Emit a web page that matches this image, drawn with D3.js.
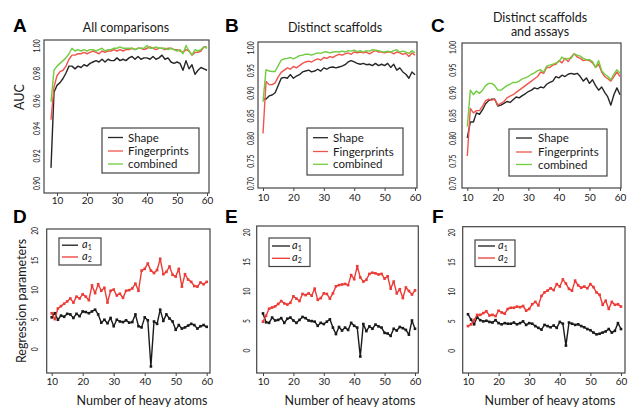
<!DOCTYPE html>
<html>
<head>
<meta charset="utf-8">
<script src="https://cdn.jsdelivr.net/npm/d3@7"></script>
<style>
  body { margin: 0; background: #fff; }
  text { font-family: Lato, "Open Sans", sans-serif; fill: #1a1a1a; }
  .letter { font-family: "Liberation Sans", Arial, sans-serif; font-weight: bold; font-size: 19px; fill: #000; }
</style>
</head>
<body>
<svg id="canvas" width="628" height="409"></svg>
<script>
// Number of heavy atoms (x values).
var atomsA = d3.range(8, 61);
var atoms = d3.range(10, 61);

// Tick labels.
var xTicks = [10, 20, 30, 40, 50, 60];
var aucTicksA = [0.90, 0.92, 0.94, 0.96, 0.98, 1.00];
var aucTicks = [0.70, 0.75, 0.80, 0.85, 0.90, 0.95, 1.00];
var regTicks = [0, 5, 10, 15, 20];

// Series names.
var aucNames = ['Shape', 'Fingerprints', 'combined'];
var regNames = ['1', '2'];

// A: All comparisons (8..60).
var shapeA = [0.911, 0.966, 0.971, 0.973, 0.976, 0.980, 0.985, 0.985, 0.983, 0.985, 0.984, 0.986, 0.985, 0.987, 0.988, 0.989, 0.988, 0.990, 0.988, 0.990, 0.989, 0.989, 0.991, 0.989, 0.990, 0.989, 0.991, 0.992, 0.990, 0.992, 0.990, 0.991, 0.991, 0.990, 0.992, 0.990, 0.991, 0.993, 0.990, 0.991, 0.988, 0.987, 0.988, 0.987, 0.982, 0.989, 0.983, 0.986, 0.979, 0.982, 0.984, 0.983, 0.982];
var fingerprintsA = [0.946, 0.970, 0.978, 0.981, 0.982, 0.985, 0.990, 0.993, 0.993, 0.994, 0.994, 0.995, 0.994, 0.995, 0.996, 0.995, 0.994, 0.996, 0.995, 0.996, 0.996, 0.997, 0.996, 0.997, 0.996, 0.997, 0.997, 0.998, 0.997, 0.998, 0.998, 0.997, 0.998, 0.999, 0.998, 0.997, 0.998, 0.998, 0.997, 0.998, 0.998, 0.997, 0.997, 0.996, 0.995, 0.997, 0.996, 0.993, 0.995, 0.995, 0.996, 0.999, 0.999];
var combinedA = [0.959, 0.982, 0.985, 0.987, 0.989, 0.991, 0.994, 0.998, 0.996, 0.997, 0.996, 0.997, 0.996, 0.997, 0.997, 0.996, 0.997, 0.998, 0.996, 0.997, 0.997, 0.998, 0.998, 0.999, 0.998, 0.998, 0.998, 0.998, 0.997, 0.998, 0.998, 0.998, 1.000, 0.998, 0.998, 0.999, 0.998, 0.998, 0.998, 0.997, 0.998, 0.997, 0.996, 0.997, 0.994, 1.000, 0.996, 0.993, 0.997, 0.996, 0.997, 0.999, 0.998];

// B: Distinct scaffolds (10..60).
var shapeB = [0.886, 0.886, 0.893, 0.895, 0.900, 0.916, 0.932, 0.934, 0.932, 0.940, 0.932, 0.937, 0.940, 0.946, 0.948, 0.950, 0.946, 0.948, 0.952, 0.948, 0.955, 0.952, 0.956, 0.957, 0.955, 0.957, 0.959, 0.962, 0.968, 0.971, 0.968, 0.965, 0.963, 0.965, 0.962, 0.963, 0.960, 0.965, 0.960, 0.963, 0.960, 0.965, 0.956, 0.963, 0.950, 0.955, 0.946, 0.941, 0.932, 0.946, 0.940];
var fingerprintsB = [0.810, 0.925, 0.918, 0.918, 0.922, 0.935, 0.945, 0.950, 0.955, 0.952, 0.958, 0.955, 0.960, 0.965, 0.968, 0.970, 0.968, 0.972, 0.975, 0.972, 0.978, 0.976, 0.980, 0.978, 0.982, 0.985, 0.983, 0.986, 0.988, 0.985, 0.990, 0.988, 0.990, 0.988, 0.990, 0.986, 0.990, 0.993, 0.990, 0.990, 0.988, 0.990, 0.990, 0.986, 0.990, 0.988, 0.985, 0.987, 0.980, 0.988, 0.983];
var combinedB = [0.880, 0.951, 0.948, 0.947, 0.947, 0.960, 0.972, 0.975, 0.976, 0.978, 0.975, 0.978, 0.982, 0.983, 0.985, 0.985, 0.983, 0.986, 0.988, 0.987, 0.990, 0.990, 0.988, 0.990, 0.991, 0.990, 0.992, 0.990, 0.993, 0.992, 0.994, 0.991, 0.993, 0.990, 0.993, 0.992, 0.995, 0.994, 0.993, 0.991, 0.990, 0.992, 0.990, 0.993, 0.995, 0.990, 0.992, 0.990, 0.987, 0.993, 0.988];

// C: Distinct scaffolds and assays (10..60).
var shapeC = [0.800, 0.835, 0.835, 0.855, 0.852, 0.862, 0.875, 0.882, 0.885, 0.885, 0.870, 0.872, 0.876, 0.880, 0.878, 0.884, 0.890, 0.888, 0.893, 0.897, 0.902, 0.905, 0.910, 0.908, 0.912, 0.910, 0.918, 0.922, 0.925, 0.935, 0.932, 0.938, 0.935, 0.940, 0.942, 0.940, 0.942, 0.935, 0.925, 0.932, 0.920, 0.928, 0.915, 0.905, 0.912, 0.900, 0.890, 0.872, 0.895, 0.910, 0.895];
var fingerprintsC = [0.760, 0.865, 0.855, 0.860, 0.860, 0.870, 0.882, 0.885, 0.883, 0.885, 0.872, 0.876, 0.880, 0.888, 0.892, 0.895, 0.900, 0.905, 0.910, 0.915, 0.920, 0.925, 0.930, 0.935, 0.945, 0.942, 0.955, 0.955, 0.960, 0.962, 0.970, 0.965, 0.975, 0.968, 0.978, 0.985, 0.978, 0.975, 0.970, 0.972, 0.970, 0.965, 0.955, 0.962, 0.945, 0.935, 0.930, 0.925, 0.935, 0.945, 0.935];
var combinedC = [0.825, 0.905, 0.895, 0.903, 0.898, 0.905, 0.915, 0.920, 0.920, 0.915, 0.905, 0.905, 0.910, 0.915, 0.918, 0.922, 0.922, 0.925, 0.930, 0.932, 0.935, 0.940, 0.943, 0.948, 0.950, 0.945, 0.958, 0.960, 0.962, 0.965, 0.968, 0.978, 0.972, 0.975, 0.975, 0.985, 0.982, 0.980, 0.975, 0.972, 0.972, 0.968, 0.955, 0.970, 0.948, 0.940, 0.935, 0.928, 0.940, 0.950, 0.942];

// D-F: regression parameters a1, a2 (10..60).
var a1D = [5.3, 6.0, 4.9, 5.6, 5.4, 5.9, 5.8, 5.2, 5.9, 5.5, 6.3, 6.2, 6.0, 6.3, 6.6, 5.8, 4.4, 4.9, 4.3, 5.2, 3.8, 4.9, 4.6, 4.5, 4.8, 4.4, 4.5, 5.8, 3.8, 3.6, 5.3, 4.8, -3.0, 4.6, 4.2, 6.6, 4.7, 5.8, 5.1, 4.6, 3.2, 4.0, 3.4, 3.6, 3.9, 4.2, 4.0, 3.4, 3.8, 4.0, 3.7];
var a2D = [6.0, 5.0, 6.8, 7.2, 7.6, 8.0, 8.5, 7.8, 8.8, 8.5, 9.2, 8.8, 8.2, 10.7, 9.4, 10.9, 9.8, 10.3, 7.8, 9.8, 10.0, 9.0, 9.3, 8.6, 9.8, 9.9, 10.2, 11.0, 9.8, 13.2, 13.5, 14.4, 13.2, 12.8, 13.3, 15.2, 12.6, 13.0, 13.9, 12.5, 12.2, 13.5, 10.5, 12.6, 11.7, 11.3, 10.6, 10.5, 11.2, 10.9, 11.3];
var a1E = [6.2, 4.7, 4.6, 5.5, 5.0, 5.1, 5.4, 4.6, 5.3, 5.5, 5.0, 4.6, 5.1, 5.6, 5.4, 5.0, 4.9, 4.8, 4.1, 4.6, 4.4, 4.8, 5.2, 3.8, 2.7, 3.9, 3.3, 3.8, 3.4, 4.6, 4.1, 3.8, -1.1, 4.4, 3.2, 4.0, 3.6, 4.3, 4.0, 3.8, 2.9, 2.8, 2.4, 3.6, 3.3, 3.9, 3.7, 3.4, 2.6, 5.0, 3.6];
var a2E = [4.8, 5.8, 7.0, 7.2, 7.4, 7.8, 8.3, 7.9, 7.7, 8.0, 9.1, 8.7, 8.3, 9.5, 9.3, 9.6, 9.2, 10.4, 8.5, 8.8, 9.6, 9.5, 8.7, 9.6, 10.8, 11.0, 11.1, 11.2, 11.0, 12.7, 12.0, 14.2, 12.3, 11.6, 11.9, 12.9, 13.1, 13.0, 12.8, 12.9, 12.1, 12.5, 10.4, 11.6, 9.6, 10.3, 8.8, 10.6, 10.0, 9.4, 10.1];
var a1F = [6.1, 5.2, 4.4, 5.6, 5.1, 4.9, 5.0, 4.8, 4.7, 5.1, 4.6, 4.4, 4.6, 4.5, 4.5, 4.7, 4.4, 4.6, 4.9, 4.3, 4.6, 4.5, 4.1, 3.8, 3.5, 4.3, 4.1, 3.9, 4.2, 3.8, 4.8, 4.5, 0.8, 4.7, 4.5, 4.3, 4.4, 4.1, 3.9, 3.6, 3.4, 3.0, 2.7, 2.8, 3.0, 3.2, 3.6, 3.0, 3.3, 4.6, 3.6];
var a2F = [4.1, 4.4, 5.1, 6.0, 6.0, 6.3, 6.6, 5.9, 6.0, 5.8, 6.7, 6.4, 6.2, 7.0, 7.2, 7.2, 7.4, 7.3, 7.5, 6.7, 7.0, 7.8, 8.2, 7.6, 9.2, 9.8, 10.1, 10.5, 10.2, 11.2, 10.8, 12.0, 11.3, 10.4, 10.1, 11.8, 11.0, 10.6, 10.8, 10.5, 11.2, 10.7, 9.8, 9.4, 7.7, 8.4, 7.0, 8.2, 7.7, 7.8, 7.4];

// Colours.
var aucColours = ['#262626', '#f0554d', '#72cc40'];
var regColours = ['#1a1a1a', '#ec3a35'];

// Panel layout (pixel boxes and where ticks land).
var panels = [
  { letter: 'A', letterPos: [13, 32], title: ['All comparisons'], titleX: 126, titleY: [32],
    atoms: atomsA, series: [shapeA, fingerprintsA, combinedA], names: aucNames, colours: aucColours,
    box: { l: 44, t: 40, r: 209, b: 193 }, xr: [57, 207], yd: [0.90, 1.00], yr: [183, 45.5],
    yTicks: aucTicksA, yFmt: '.2f', yLabOff: -3.9, xLabPad: 1,
    legend: { l: 102, t: 128, r: 199, b: 173, x1: 108, x2: 123, tx: 128, rows: [137.5, 151, 164] } },
  { letter: 'B', letterPos: [225, 32], title: ['Distinct scaffolds'], titleX: 335, titleY: [32],
    atoms: atoms, series: [shapeB, fingerprintsB, combinedB], names: aucNames, colours: aucColours,
    box: { l: 258, t: 42, r: 417, b: 188 }, xr: [263, 415], yd: [0.70, 1.00], yr: [183.3, 47.5],
    yTicks: aucTicks, yFmt: '.2f', yLabOff: -4.3, xLabPad: 3,
    legend: { l: 307, t: 128, r: 403, b: 175, x1: 313, x2: 328, tx: 333, rows: [137.7, 151.5, 164.3] } },
  { letter: 'C', letterPos: [431, 32], title: ['Distinct scaffolds', 'and assays'], titleX: 540, titleY: [22, 36],
    atoms: atoms, series: [shapeC, fingerprintsC, combinedC], names: aucNames, colours: aucColours,
    box: { l: 462, t: 43, r: 621, b: 188 }, xr: [467.3, 620], yd: [0.70, 1.00], yr: [183.3, 47],
    yTicks: aucTicks, yFmt: '.2f', yLabOff: -6, xLabPad: 3,
    legend: { l: 509, t: 129, r: 607, b: 176, x1: 516, x2: 532, tx: 538, rows: [138, 152, 164.5] } },
  { letter: 'D', letterPos: [13, 223], reg: true,
    atoms: atoms, series: [a1D, a2D], names: regNames, colours: regColours,
    box: { l: 46.7, t: 229, r: 210, b: 373 }, xr: [51.7, 206.7], yd: [0, 15], yr: [348.7, 260],
    yTicks: regTicks, yFmt: 'd', yLabOff: -8.3, xLabPad: 2, xTitle: 142,
    legend: { l: 59, t: 238, r: 101, b: 265, x1: 62, x2: 78, tx: 82, rows: [245.2, 257] } },
  { letter: 'E', letterPos: [225, 223], reg: true,
    atoms: atoms, series: [a1E, a2E], names: regNames, colours: regColours,
    box: { l: 256.7, t: 226, r: 418.3, b: 373 }, xr: [263, 415], yd: [0, 15], yr: [350, 261.5],
    yTicks: regTicks, yFmt: 'd', yLabOff: -6.6, xLabPad: 2, xTitle: 350,
    legend: { l: 269, t: 238, r: 310, b: 266.5, x1: 272, x2: 290, tx: 292, rows: [246, 258.3] } },
  { letter: 'F', letterPos: [432, 223], reg: true,
    atoms: atoms, series: [a1F, a2F], names: regNames, colours: regColours,
    box: { l: 462.7, t: 226.7, r: 625, b: 373 }, xr: [468, 621], yd: [0, 15], yr: [350.3, 261.7],
    yTicks: regTicks, yFmt: 'd', yLabOff: -7.6, xLabPad: 2, xTitle: 550,
    legend: { l: 475, t: 240, r: 515, b: 266.5, x1: 478, x2: 495, tx: 498, rows: [246, 258] } }
];

var svg = d3.select('#canvas');

// Draw each panel.
panels.forEach(function(p) {

  var g = svg.append('g');

  // Scales.
  var x = d3.scaleLinear().domain([10, 60]).range(p.xr);
  var y = d3.scaleLinear().domain(p.yd).range(p.yr);

  // Plot box.
  g.append('rect')
    .attr('x', p.box.l).attr('y', p.box.t)
    .attr('width', p.box.r - p.box.l).attr('height', p.box.b - p.box.t)
    .attr('fill', 'none').attr('stroke', '#444').attr('stroke-width', 1.2);

  // X axis.
  var xAxis = g.append('g')
    .attr('transform', 'translate(0,' + p.box.b + ')')
    .call(d3.axisBottom(x).tickValues(xTicks).tickSize(3).tickSizeOuter(0).tickPadding(p.xLabPad));
  xAxis.select('.domain').remove();
  xAxis.selectAll('line').attr('stroke', '#444');
  xAxis.selectAll('text').attr('font-size', 10).attr('font-family', 'Lato, sans-serif').attr('fill', '#1a1a1a');

  // Y axis with rotated, narrow labels.
  var yAxis = g.append('g')
    .attr('transform', 'translate(' + p.box.l + ',0)')
    .call(d3.axisLeft(y).tickValues(p.yTicks).tickSize(0).tickFormat(d3.format(p.yFmt)));
  yAxis.select('.domain').remove();
  yAxis.selectAll('text')
    .attr('x', null).attr('dy', null)
    .attr('text-anchor', 'middle')
    .attr('font-size', 9.5).attr('font-family', 'Lato, sans-serif').attr('fill', '#1a1a1a')
    .attr('transform', 'translate(' + p.yLabOff + ',0) rotate(-90) scale(0.7,1)');

  // Series lines.
  var line = d3.line()
    .x(function(d, i) { return x(p.atoms[i]); })
    .y(function(d) { return y(d); });

  p.series.forEach(function(s, k) {
    g.append('path')
      .datum(s)
      .attr('d', line)
      .attr('fill', 'none')
      .attr('stroke', p.colours[k])
      .attr('stroke-width', 1.4)
      .attr('stroke-linejoin', 'round');

    // Point markers on the regression panels.
    if (p.reg) {
      g.selectAll('.pt' + k)
        .data(s)
        .enter()
        .append('rect')
        .attr('x', function(d, i) { return x(p.atoms[i]) - 1.3; })
        .attr('y', function(d) { return y(d) - 1.3; })
        .attr('width', 2.6).attr('height', 2.6)
        .attr('fill', p.colours[k]);
    }
  });

  // Legend.
  var L = p.legend;
  g.append('rect')
    .attr('x', L.l).attr('y', L.t).attr('width', L.r - L.l).attr('height', L.b - L.t)
    .attr('fill', '#fff').attr('stroke', '#444').attr('stroke-width', 1.2);

  p.names.forEach(function(name, k) {
    g.append('line')
      .attr('x1', L.x1).attr('x2', L.x2).attr('y1', L.rows[k]).attr('y2', L.rows[k])
      .attr('stroke', p.colours[k]).attr('stroke-width', 1.3);
    var t = g.append('text')
      .attr('x', L.tx).attr('y', L.rows[k] + (p.reg ? 3 : 4))
      .attr('font-size', p.reg ? 11 : 11.5);
    if (p.reg) {
      t.append('tspan').attr('font-style', 'italic').text('a');
      t.append('tspan').attr('font-size', 7).attr('dy', 1.5).text(name);
    } else {
      t.text(name);
    }
  });

  // Panel letter.
  g.append('text')
    .attr('class', 'letter')
    .attr('x', p.letterPos[0]).attr('y', p.letterPos[1])
    .text(p.letter);

  // Title.
  if (p.title) {
    p.title.forEach(function(tl, k) {
      g.append('text')
        .attr('x', p.titleX).attr('y', p.titleY[k])
        .attr('text-anchor', 'middle')
        .attr('font-size', 12.5)
        .text(tl);
    });
  }

  // X title on the lower row.
  if (p.xTitle) {
    g.append('text')
      .attr('x', p.xTitle).attr('y', 405)
      .attr('text-anchor', 'middle')
      .attr('font-size', 12.5)
      .text('Number of heavy atoms');
  }

});

// Y axis titles.
svg.append('text')
  .attr('transform', 'translate(24,97) rotate(-90)')
  .attr('text-anchor', 'middle')
  .attr('font-size', 12.5)
  .text('AUC');

svg.append('text')
  .attr('transform', 'translate(26,301) rotate(-90)')
  .attr('text-anchor', 'middle')
  .attr('font-size', 12.5)
  .text('Regression parameters');
</script>
</body>
</html>
